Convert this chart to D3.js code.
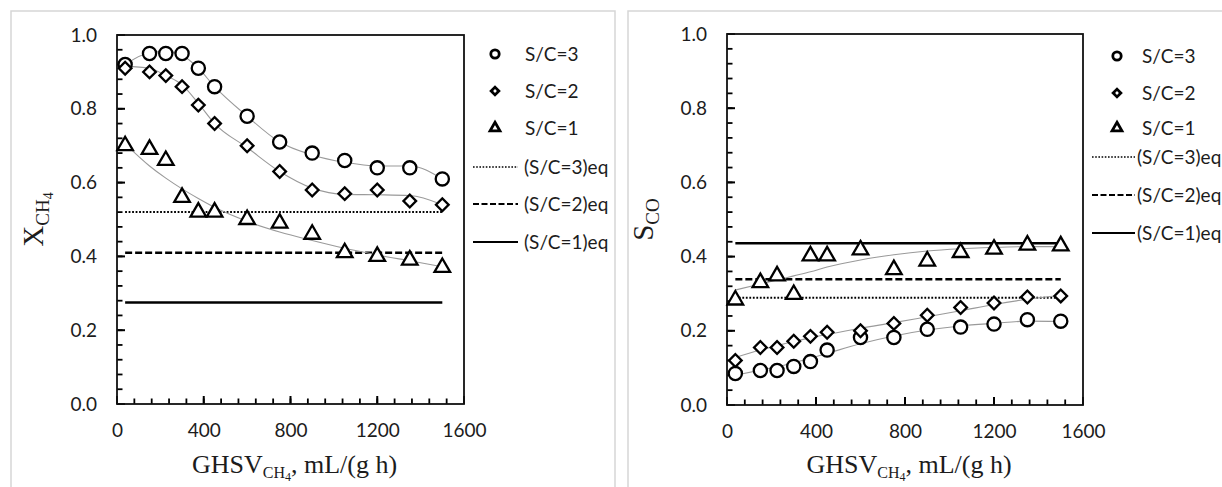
<!DOCTYPE html>
<html>
<head>
<meta charset="utf-8">
<script src="https://cdn.jsdelivr.net/npm/d3@7"></script>
<style>
  html, body { margin: 0; padding: 0; background: #fff; }
  svg { display: block; }
</style>
</head>
<body>
<div id="chart"></div>
<script>
// Steam-to-carbon series

const ghsv = [37.5, 150, 225, 300, 375, 450, 600, 750, 900, 1050, 1200, 1350, 1500];

// Left panel: CH4 conversion
const xch4SC3 = [0.92, 0.95, 0.95, 0.95, 0.91, 0.86, 0.78, 0.71, 0.68, 0.66, 0.64, 0.64, 0.61];
const xch4SC2 = [0.91, 0.90, 0.89, 0.86, 0.81, 0.76, 0.70, 0.63, 0.58, 0.57, 0.58, 0.55, 0.54];
const xch4SC1 = [0.70, 0.69, 0.66, 0.56, 0.52, 0.52, 0.50, 0.49, 0.46, 0.41, 0.40, 0.39, 0.37];
const xch4FitSC3 = [0.92, 0.952, 0.955, 0.945, 0.91, 0.86, 0.78, 0.71, 0.675, 0.655, 0.645, 0.645, 0.61];
const xch4FitSC2 = [0.915, 0.91, 0.89, 0.865, 0.815, 0.76, 0.695, 0.63, 0.585, 0.568, 0.567, 0.565, 0.54];
const xch4FitSC1 = [0.705, 0.645, 0.612, 0.583, 0.557, 0.533, 0.495, 0.466, 0.443, 0.422, 0.404, 0.388, 0.372];
const xch4Eq = [0.52, 0.41, 0.275];

// Right panel: CO selectivity
const scoSC3 = [0.085, 0.093, 0.093, 0.104, 0.117, 0.148, 0.182, 0.182, 0.204, 0.21, 0.218, 0.23, 0.226];
const scoSC2 = [0.12, 0.155, 0.155, 0.172, 0.185, 0.196, 0.2, 0.22, 0.242, 0.263, 0.275, 0.291, 0.294];
const scoSC1 = [0.283, 0.33, 0.348, 0.298, 0.402, 0.402, 0.418, 0.365, 0.388, 0.411, 0.42, 0.431, 0.429];
const scoFitSC3 = [0.08, 0.094, 0.103, 0.114, 0.126, 0.139, 0.165, 0.186, 0.202, 0.213, 0.22, 0.226, 0.225];
const scoFitSC2 = [0.128, 0.148, 0.16, 0.171, 0.181, 0.19, 0.207, 0.222, 0.238, 0.254, 0.271, 0.285, 0.295];
const scoFitSC1 = [0.31, 0.326, 0.337, 0.348, 0.359, 0.372, 0.391, 0.405, 0.415, 0.421, 0.425, 0.427, 0.427];
const scoEq = [0.289, 0.339, 0.436];

const xTicks = [0, 400, 800, 1200, 1600];
const yTicks = [0, 0.2, 0.4, 0.6, 0.8, 1.0];
const xMinorTicks = d3.range(80, 1600, 80);
const yMinorTicks = d3.range(1, 25).map(i => i * 0.04);
const seriesLabels = ['S/C=3', 'S/C=2', 'S/C=1'];
const eqLabels = ['(S/C=3)eq', '(S/C=2)eq', '(S/C=1)eq'];

const W = 1222, H = 487;
const TICK_FONT = 'Lato, "Open Sans", sans-serif';
const TITLE_FONT = '"Liberation Serif", "DejaVu Serif", serif';
const INK = '#1c1c1c';

const svg = d3.select('#chart').append('svg')
    .attr('width', W)
    .attr('height', H);

svg.append('rect').attr('width', W).attr('height', H).attr('fill', '#fff');

// light frames around each panel
svg.append('rect')
    .attr('x', 11).attr('y', 11).attr('width', 604).attr('height', 500)
    .attr('fill', 'none').attr('stroke', '#d6d6d6').attr('stroke-width', 1.5);
svg.append('rect')
    .attr('x', 628).attr('y', 11).attr('width', 620).attr('height', 500)
    .attr('fill', 'none').attr('stroke', '#d6d6d6').attr('stroke-width', 1.5);

const markerShapes = ['circle', 'diamond', 'triangle'];

function drawMarker(g, shape, cx, cy, big) {
    const sw = big ? 2.3 : 2.8;
    if (shape === 'circle') {
        g.append('circle')
            .attr('cx', cx).attr('cy', cy)
            .attr('r', big ? 6.6 : 4.2)
            .attr('fill', '#fff').attr('stroke', '#000')
            .attr('stroke-width', sw);
    } else if (shape === 'diamond') {
        g.append('path')
            .attr('d', d3.symbol().type(d3.symbolSquare).size(big ? 80 : 30)())
            .attr('transform', `translate(${cx},${cy}) rotate(45)`)
            .attr('fill', '#fff').attr('stroke', '#000')
            .attr('stroke-width', sw);
    } else {
        g.append('path')
            .attr('d', d3.symbol().type(d3.symbolTriangle).size(big ? 105 : 42)())
            .attr('transform', `translate(${cx},${cy})`)
            .attr('fill', '#fff').attr('stroke', '#000')
            .attr('stroke-width', sw);
    }
}

const eqDash = ['1.8,1.7', '7,3', null];
const eqWidth = [2, 2.5, 2.5];

function drawPanel(p) {
    const x = d3.scaleLinear().domain([0, 1600]).range([p.left, p.right]);
    const y = d3.scaleLinear().domain([0, 1]).range([p.bottom, p.top]);
    const g = svg.append('g');

    // tick labels via d3 axes (tick lines drawn inward below)
    g.append('g')
        .attr('transform', `translate(0,${p.bottom})`)
        .call(d3.axisBottom(x).tickValues(xTicks).tickSize(0).tickPadding(20).tickFormat(d3.format('d')))
        .call(a => a.select('.domain').remove())
        .call(a => a.selectAll('text')
            .attr('font-family', TICK_FONT).attr('font-size', 19).attr('fill', INK));
    g.append('g')
        .attr('transform', `translate(${p.left},0)`)
        .call(d3.axisLeft(y).tickValues(yTicks).tickSize(0).tickPadding(20).tickFormat(d3.format('.1f')))
        .call(a => a.select('.domain').remove())
        .call(a => a.selectAll('text')
            .attr('font-family', TICK_FONT).attr('font-size', 19).attr('fill', INK));

    // inward tick marks
    const tk = g.append('g').attr('stroke', '#000');
    tk.selectAll('line.xmin').data(xMinorTicks).join('line')
        .attr('class', 'xmin')
        .attr('x1', d => x(d)).attr('x2', d => x(d))
        .attr('y1', p.bottom).attr('y2', p.bottom - 5.5)
        .attr('stroke-width', 1.8);
    tk.selectAll('line.xmaj').data(xTicks).join('line')
        .attr('class', 'xmaj')
        .attr('x1', d => x(d)).attr('x2', d => x(d))
        .attr('y1', p.bottom).attr('y2', p.bottom - 8)
        .attr('stroke-width', 2);
    tk.selectAll('line.ymin').data(yMinorTicks).join('line')
        .attr('class', 'ymin')
        .attr('x1', p.left).attr('x2', p.left + 5.5)
        .attr('y1', d => y(d)).attr('y2', d => y(d))
        .attr('stroke-width', 1.8);
    tk.selectAll('line.ymaj').data(yTicks).join('line')
        .attr('class', 'ymaj')
        .attr('x1', p.left).attr('x2', p.left + 8)
        .attr('y1', d => y(d)).attr('y2', d => y(d))
        .attr('stroke-width', 2);

    // plot frame
    g.append('rect')
        .attr('x', p.left).attr('y', p.top)
        .attr('width', p.right - p.left).attr('height', p.bottom - p.top)
        .attr('fill', 'none').attr('stroke', '#111').attr('stroke-width', 1.8);

    // equilibrium lines
    p.eq.forEach((v, i) => {
        g.append('line')
            .attr('x1', x(ghsv[0])).attr('x2', x(ghsv[ghsv.length - 1]))
            .attr('y1', y(v)).attr('y2', y(v))
            .attr('stroke', '#000')
            .attr('stroke-width', eqWidth[i])
            .attr('stroke-dasharray', eqDash[i]);
    });

    // fitted trends
    const line = d3.line()
        .x((d, i) => x(ghsv[i]))
        .y(d => y(d))
        .curve(d3.curveMonotoneX);
    p.fits.forEach(f => {
        g.append('path')
            .datum(f)
            .attr('fill', 'none')
            .attr('stroke', '#9a9a9a')
            .attr('stroke-width', 1.1)
            .attr('d', line);
    });

    // measured points
    p.series.forEach((s, k) => {
        s.forEach((v, i) => drawMarker(g, markerShapes[k], x(ghsv[i]), y(v), true));
    });

    // x title
    const xt = g.append('text')
        .attr('x', (p.left + p.right) / 2 + 4)
        .attr('y', 473)
        .attr('text-anchor', 'middle')
        .attr('font-family', TITLE_FONT)
        .attr('font-size', 26)
        .attr('fill', INK);
    xt.append('tspan').text('GHSV');
    xt.append('tspan').attr('font-size', 16).attr('dy', 5).text('CH');
    xt.append('tspan').attr('font-size', 12).attr('dy', 3).text('4');
    xt.append('tspan').attr('dy', -8).text(', mL/(g h)');

    // y title
    const yt = g.append('text')
        .attr('transform', `translate(${p.left - 74},${(p.top + p.bottom) / 2}) rotate(-90)`)
        .attr('text-anchor', 'middle')
        .attr('font-family', TITLE_FONT)
        .attr('font-size', 29)
        .attr('fill', INK);
    yt.append('tspan').text(p.yMain);
    yt.append('tspan').attr('font-size', 19).attr('dy', 6).text(p.ySub);
    if (p.ySub2) yt.append('tspan').attr('font-size', 14).attr('dy', 4).text(p.ySub2);

    // legend
    const lg = g.append('g');
    seriesLabels.forEach((lab, k) => {
        const ly = p.legY[k];
        drawMarker(lg, markerShapes[k], p.legMarkX, ly, false);
        lg.append('text')
            .attr('x', p.legTextX).attr('y', ly)
            .attr('dy', '0.36em')
            .attr('font-family', TICK_FONT).attr('font-size', 19).attr('fill', INK)
            .text(lab);
    });
    eqLabels.forEach((lab, i) => {
        const ly = p.legY[i + 3];
        lg.append('line')
            .attr('x1', p.legLineX[0]).attr('x2', p.legLineX[1])
            .attr('y1', ly).attr('y2', ly)
            .attr('stroke', '#000')
            .attr('stroke-width', i === 0 ? 1.5 : 2.2)
            .attr('stroke-dasharray', i === 0 ? '1.6,1.6' : (i === 1 ? '6,2.5' : null));
        lg.append('text')
            .attr('x', p.legEqTextX).attr('y', ly)
            .attr('dy', '0.36em')
            .attr('font-family', TICK_FONT).attr('font-size', 19).attr('fill', INK)
            .text(lab);
    });
}

drawPanel({
    left: 117, right: 464, top: 35, bottom: 404,
    series: [xch4SC3, xch4SC2, xch4SC1],
    fits: [xch4FitSC3, xch4FitSC2, xch4FitSC1],
    eq: xch4Eq,
    yMain: 'X', ySub: 'CH', ySub2: '4',
    legMarkX: 495, legTextX: 525,
    legLineX: [473, 518], legEqTextX: 524,
    legY: [54, 91, 128, 167, 204, 242]
});

drawPanel({
    left: 727, right: 1083, top: 34, bottom: 405,
    series: [scoSC3, scoSC2, scoSC1],
    fits: [scoFitSC3, scoFitSC2, scoFitSC1],
    eq: scoEq,
    yMain: 'S', ySub: 'CO', ySub2: null,
    legMarkX: 1117, legTextX: 1142,
    legLineX: [1092, 1135], legEqTextX: 1137,
    legY: [56, 93, 128, 157, 195, 233]
});
</script>
</body>
</html>
